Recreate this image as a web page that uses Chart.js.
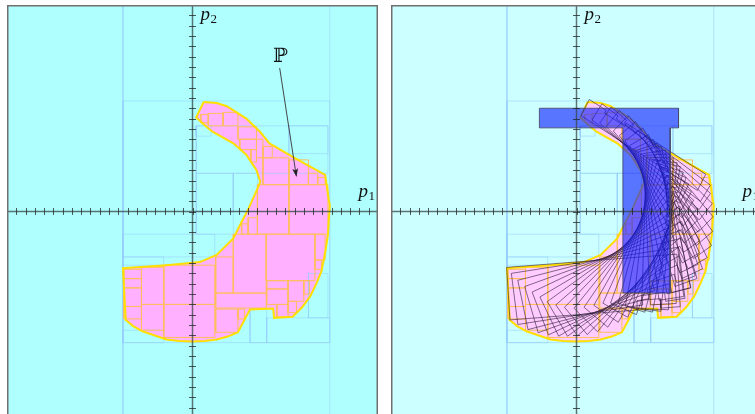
<!DOCTYPE html>
<html><head><meta charset="utf-8">
<script src="https://cdn.jsdelivr.net/npm/chart.js@4"></script>
<style>
html,body{margin:0;padding:0;background:#fff;width:755px;height:414px;overflow:hidden;position:relative}
.panel{position:absolute;top:5px;width:371px;height:413px}
#left{left:7px}
#right{left:391px}
</style></head><body>
<div class="panel" id="left"><canvas id="c1"></canvas></div>
<div class="panel" id="right"><canvas id="c2"></canvas></div>
<script>
// ---- data (parameter plane p1, p2) ----
const axisRange = [-20, 20];
const tickStep = 1;

// outline of the feasible set P
const regionOutline = [
  [1.2,10.6],[2.6,10.5],[3.7,10.2],[5.8,9.0],[7.3,7.7],[8.3,6.6],[10.8,5.3],[14.3,3.55],
  [14.7,1.1],[14.8,0.6],[14.6,-2.3],[14.3,-4.0],[13.9,-5.8],[13.3,-7.1],[12.7,-8.2],[11.8,-9.3],
  [10.8,-10.2],[8.8,-10.3],[8.7,-9.4],[6.2,-9.5],[4.9,-11.7],[3.8,-12.1],[2.6,-12.4],[1.3,-12.55],
  [0.0,-12.6],[-1.4,-12.55],[-2.8,-12.4],[-5.4,-11.6],[-6.4,-11.1],[-7.2,-10.5],[-7.5,-5.5],
  [-2.8,-5.2],[0.8,-4.9],[2.6,-4.2],[4.4,-2.6],[5.3,-1.0],[6.0,0.2],[7.1,2.4],[7.3,2.9],
  [6.9,4.0],[5.8,5.5],[4.4,6.6],[2.2,7.7],[1.5,8.2],[0.4,9.1],[1.2,10.6]
];

// boxes proved inside P  [x1, y1, x2, y2]
const innerBoxes = [
  [7.0,-2.2,10.4,2.6],[10.4,-2.2,14.6,2.6],[7.6,2.6,10.4,5.2],[10.4,2.6,12.5,5.0],
  [4.4,-7.9,7.95,-2.2],[7.95,-6.7,13.2,-2.2],[13.2,-4.7,14.3,-2.2],[2.5,-7.9,4.4,-4.4],
  [2.5,-9.35,7.95,-7.9],[-3.1,-9.0,2.4,-5.2],[-3.1,-12.2,2.4,-9.0],[-5.5,-9.0,-3.1,-5.4],
  [-5.5,-11.5,-3.1,-9.0],[-7.4,-9.2,-5.5,-7.4],[-7.4,-7.4,-5.5,-6.5],[-7.4,-10.4,-5.5,-9.2],
  [-7.4,-6.5,-5.5,-5.6],[2.5,-11.7,4.9,-9.45],[4.9,-10.4,5.6,-9.45],[8.0,-7.5,10.3,-6.7],
  [8.0,-9.0,10.3,-7.5],[10.3,-8.7,12.0,-6.7],[9.1,-10.2,10.3,-9.0],[10.3,-9.8,11.2,-8.7],
  [12.0,-8.0,12.6,-6.7],[13.2,-5.6,13.9,-4.7],[6.0,-2.2,7.0,-0.6],[5.3,-2.2,6.0,-1.2],
  [3.3,8.3,4.9,9.6],[1.7,8.3,3.3,9.5],[0.9,8.6,1.7,9.4],[4.9,7.0,6.9,8.2],[5.1,6.0,6.9,7.0],
  [6.3,4.8,6.9,6.0],[6.9,5.2,7.6,7.0],[7.6,5.2,8.6,6.3],[12.5,2.6,13.5,3.7],[13.5,2.6,14.3,3.3]
];

// boxes of the outer subpaving (boundary / outside)
const outerBoxes = [
  [-7.5,-20,14.8,20],[-7.5,-12.7,14.8,10.7],[0.4,3.7,14.6,8.3],[0.4,7.3,2.0,8.3],
  [0.4,0.0,4.4,3.7],[4.4,0.0,7.0,3.7],[10.4,5.6,14.6,8.3],[-7.5,-4.4,2.4,-2.2],
  [-7.5,-5.2,-3.1,-4.4],[6.2,-12.7,8.0,-9.4],[8.0,-12.7,14.8,-10.3],[-7.5,-12.7,-3.1,-11.5],
  [0.4,-2.2,4.4,0.0],[12.5,-10.3,14.6,-6.0]
];

// T-shaped obstacle
const obstacleOutline = [
  [-4.0,10.0],[11.0,10.0],[11.0,8.1],[10.1,8.1],[10.1,-7.9],[5.0,-7.9],[5.0,8.1],[-4.0,8.1],[-4.0,10.0]
];

// swept body: every pose rests its inner side on a tangent of the circle (sweepCenter, sweepRadius)
const sweepCenter = [1.0, 1.6];
const sweepRadius = 6.4;
const sweepAngle = [60, 56, 52, 48, 43, 38, 33, 28, 23, 18, 13, 8, 3, -2, -7, -12,
                    -17, -22, -27, -32, -37, -42, -47, -52, -57, -62, -67, -72, -77, -82, -86];
const sweepBack  = [4.3, 3.5, 3.1, 2.8, 2.5, 2.3, 2.1, 2.0, 2.1, 2.4, 2.8, 3.1, 3.5, 3.9, 4.3, 4.8,
                    5.2, 5.6, 6.0, 6.3, 6.6, 6.9, 7.2, 7.6, 7.9, 8.2, 8.5, 8.8, 9.0, 9.2, 9.4];
const sweepAhead = [10.2, 10.6, 10.5, 10.7, 10.9, 11.2, 11.5, 11.5, 11.5, 11.4, 11.3, 11.2, 11.0, 10.8, 10.2, 9.6,
                    9.0, 8.7, 8.5, 8.6, 8.8, 9.0, 9.1, 9.1, 9.1, 9.0, 9.0, 9.0, 9.0, 9.0, 9.0];
const sweepWidth = [1.8, 1.9, 2.0, 2.1, 2.2, 2.2, 2.3, 2.3, 2.4, 2.5, 2.6, 2.7, 2.8, 2.9, 3.0, 3.0,
                    3.0, 3.0, 3.0, 3.1, 3.2, 3.4, 3.6, 3.8, 4.0, 4.3, 4.5, 4.7, 4.9, 5.0, 5.1];
// notch cut into the outer side near the rear end: [start, end] along the body, depth ratio
const bodyNotch = [2.1, 4.6, 0.82];

// ---- helpers building point lists ----
const GAP = {x: NaN, y: NaN};
const pts = list => list.map(([x, y]) => ({x, y}));
function boxPoints(boxes) {
  const out = [];
  boxes.forEach(([x1, y1, x2, y2]) => {
    out.push({x:x1,y:y1},{x:x2,y:y1},{x:x2,y:y2},{x:x1,y:y2},{x:x1,y:y1}, GAP);
  });
  return out;
}
function sweepPoints() {
  const out = [];
  sweepAngle.forEach((deg, k) => {
    const a = deg * Math.PI / 180;
    const n = [Math.cos(a), Math.sin(a)];
    const d = [Math.sin(a), -Math.cos(a)];
    const w = sweepWidth[k];
    const s0 = -sweepBack[k], s1 = sweepAhead[k];
    const local = [
      [s0, 0], [s1, 0], [s1, w], [s0 + bodyNotch[1], w], [s0 + bodyNotch[1], w * bodyNotch[2]],
      [s0 + bodyNotch[0], w * bodyNotch[2]], [s0 + bodyNotch[0], w], [s0, w], [s0, 0]
    ];
    local.forEach(([s, t]) => {
      out.push({
        x: sweepCenter[0] + (sweepRadius + t) * n[0] + s * d[0],
        y: sweepCenter[1] + (sweepRadius + t) * n[1] + s * d[1]
      });
    });
    out.push(GAP);
  });
  return out;
}

// ---- drawing plugin: background, axes with crossing ticks, labels, frame ----
const planePlugin = {
  id: 'plane',
  beforeDatasetsDraw(chart, args, opts) {
    const {ctx, chartArea: a} = chart;
    ctx.save();
    ctx.fillStyle = opts.background;
    ctx.fillRect(a.left, a.top, a.right - a.left, a.bottom - a.top);
    ctx.restore();
  },
  afterDatasetsDraw(chart, args, opts) {
    const {ctx, chartArea: a, scales: {x, y}} = chart;
    const ox = x.getPixelForValue(0), oy = y.getPixelForValue(0);
    ctx.save();
    // axes
    ctx.strokeStyle = 'rgba(55,70,70,0.75)';
    ctx.lineWidth = 1.5;
    ctx.beginPath();
    ctx.moveTo(a.left, oy); ctx.lineTo(a.right, oy);
    ctx.moveTo(ox, a.top); ctx.lineTo(ox, a.bottom);
    ctx.stroke();
    ctx.strokeStyle = 'rgba(30,35,35,0.75)';
    ctx.lineWidth = 1;
    ctx.beginPath();
    for (let v = Math.ceil(x.min); v <= x.max; v += tickStep) {
      const px = Math.round(x.getPixelForValue(v)) + 0.5;
      ctx.moveTo(px, oy - 3.5); ctx.lineTo(px, oy + 3.5);
    }
    for (let v = Math.ceil(y.min); v <= y.max; v += tickStep) {
      const py = Math.round(y.getPixelForValue(v)) + 0.5;
      ctx.moveTo(ox - 3.5, py); ctx.lineTo(ox + 3.5, py);
    }
    ctx.stroke();
    // axis names
    ctx.fillStyle = '#111';
    ctx.textBaseline = 'alphabetic';
    const axisName = (px, py, sub) => {
      ctx.font = 'italic 19px "Liberation Serif"';
      ctx.fillText('p', px, py);
      const wdt = ctx.measureText('p').width;
      ctx.font = '13px "Liberation Serif"';
      ctx.fillText(sub, px + wdt + 0.5, py + 3);
    };
    axisName(x.getPixelForValue(0.86), y.getPixelForValue(18.5), '2');
    axisName(x.getPixelForValue(17.9), y.getPixelForValue(1.4), '1');
    // set name with arrow
    if (opts.setLabel) {
      const L = opts.setLabel;
      ctx.font = '20px "DejaVu Serif"';
      ctx.textAlign = 'center';
      ctx.fillText(L.text, x.getPixelForValue(L.at[0]), y.getPixelForValue(L.at[1]));
      const x0 = x.getPixelForValue(L.from[0]), y0 = y.getPixelForValue(L.from[1]);
      const x1 = x.getPixelForValue(L.to[0]), y1 = y.getPixelForValue(L.to[1]);
      ctx.strokeStyle = '#333';
      ctx.lineWidth = 0.9;
      ctx.beginPath(); ctx.moveTo(x0, y0); ctx.lineTo(x1, y1); ctx.stroke();
      const ang = Math.atan2(y1 - y0, x1 - x0);
      ctx.fillStyle = '#222';
      ctx.beginPath();
      ctx.moveTo(x1, y1);
      ctx.lineTo(x1 - 8 * Math.cos(ang) + 3 * Math.sin(ang), y1 - 8 * Math.sin(ang) - 3 * Math.cos(ang));
      ctx.lineTo(x1 - 6 * Math.cos(ang), y1 - 6 * Math.sin(ang));
      ctx.lineTo(x1 - 8 * Math.cos(ang) - 3 * Math.sin(ang), y1 - 8 * Math.sin(ang) + 3 * Math.cos(ang));
      ctx.closePath(); ctx.fill();
    }
    // frame
    ctx.strokeStyle = '#707070';
    ctx.lineWidth = 1.5;
    ctx.strokeRect(a.left + 0.75, a.top + 0.75, a.right - a.left - 1.5, a.bottom - a.top - 1.5);
    ctx.restore();
  }
};

function lineSet(data, color, width, order, extra) {
  return Object.assign({
    data, showLine: true, borderColor: color, borderWidth: width, pointRadius: 0,
    tension: 0, fill: false, spanGaps: false, order, borderJoinStyle: 'miter'
  }, extra || {});
}

function makePanel(canvasId, style) {
  const datasets = [
    lineSet(pts(regionOutline), 'rgba(0,0,0,0)', 0, 10, {fill: 'shape', backgroundColor: style.pink}),
    lineSet(boxPoints(outerBoxes), style.outerLine, 1, 9),
    lineSet(boxPoints(innerBoxes), '#ffbe5c', 1, 8),
    lineSet(pts(regionOutline), '#ffdf00', 2, 7)
  ];
  if (style.sweep) {
    datasets.push(lineSet(sweepPoints(), 'rgba(45,25,55,0.7)', 0.85, 6));
    datasets.push(lineSet(pts(obstacleOutline), 'rgba(70,70,110,0.85)', 1, 5,
      {fill: 'shape', backgroundColor: 'rgba(10,25,255,0.6)'}));
  }
  return new Chart(document.getElementById(canvasId), {
    type: 'scatter',
    data: {datasets},
    options: {
      responsive: true, maintainAspectRatio: false, animation: false, events: [],
      layout: {padding: 0},
      scales: {
        x: {type: 'linear', min: axisRange[0], max: axisRange[1], display: false},
        y: {type: 'linear', min: axisRange[0], max: axisRange[1], display: false}
      },
      plugins: {
        legend: {display: false}, tooltip: {enabled: false},
        plane: {background: style.background, setLabel: style.setLabel}
      }
    },
    plugins: [planePlugin]
  });
}

makePanel('c1', {
  background: '#b0ffff', pink: '#ffb0ff', outerLine: 'rgba(150,205,250,0.55)',
  setLabel: {text: '\u2119', at: [9.5, 14.45], from: [9.4, 13.9], to: [11.2, 3.4]}
});
makePanel('c2', {
  background: '#ccffff', pink: '#ffccff', outerLine: 'rgba(150,205,250,0.55)', sweep: true
});
</script></body></html>
